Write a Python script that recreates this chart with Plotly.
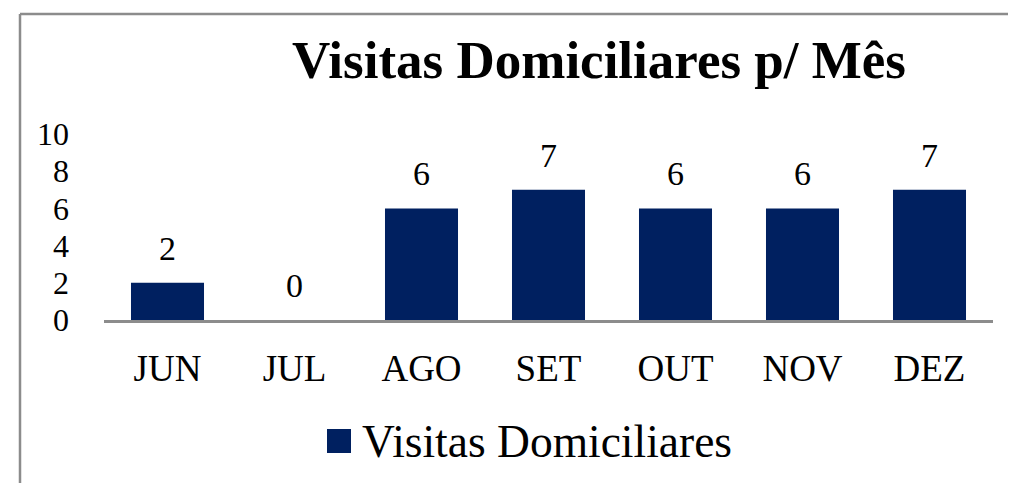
import plotly.graph_objects as go

months = ["JUN", "JUL", "AGO", "SET", "OUT", "NOV", "DEZ"]
visits = [2, 0, 6, 7, 6, 6, 7]
y_ticks = [0, 2, 4, 6, 8, 10]
series_name = "Visitas Domiciliares"
title_text = "Visitas Domiciliares p/ Mês"

OFF = 8  # page body margin
W, H = 1016 - OFF, 483 - OFF
L, T = 104 - OFF, 134 - OFF
pw, ph = 889, 186
R = W - L - pw
B = H - T - ph

def px_x(x):
    return (x - OFF - L) / pw

def px_y(y):
    return (T + ph - (y - OFF)) / ph

NAVY = "#002060"
GRAY = "#8c8c8c"
FONT = "Liberation Serif"

fig = go.Figure()
fig.add_trace(go.Bar(
    x=months, y=visits, name=series_name,
    marker=dict(color=NAVY, line=dict(width=0)),
    width=0.575, showlegend=False,
))

for m, v in zip(months, visits):
    fig.add_annotation(
        x=m, y=v, xref="x", yref="y", text=str(v), showarrow=False,
        yanchor="bottom", yshift=14,
        font=dict(family=FONT, size=34, color="#000000"),
    )

# border (top and left edges visible in the frame)
fig.add_shape(type="line", xref="paper", yref="paper",
              x0=px_x(20), x1=px_x(1030), y0=px_y(14), y1=px_y(14),
              line=dict(color=GRAY, width=2.5), layer="below")
fig.add_shape(type="line", xref="paper", yref="paper",
              x0=px_x(20), x1=px_x(20), y0=px_y(520), y1=px_y(14),
              line=dict(color=GRAY, width=2.5), layer="below")

# manual legend
fig.add_shape(type="rect", xref="paper", yref="paper",
              x0=px_x(327), x1=px_x(351), y0=px_y(453), y1=px_y(429),
              line=dict(width=0), fillcolor=NAVY)
fig.add_annotation(xref="paper", yref="paper", x=px_x(360), y=px_y(441),
                   xanchor="left", yanchor="middle", text=series_name, showarrow=False,
                   font=dict(family=FONT, size=45.5, color="#000000"))

fig.update_layout(
    width=W, height=H,
    margin=dict(l=L, r=R, t=T, b=B),
    paper_bgcolor="white", plot_bgcolor="white",
    title=dict(text="<b>" + title_text + "</b>", x=(599 - OFF) / W, xanchor="center",
               xref="container", y=1 - (59 - OFF) / H, yanchor="middle", yref="container",
               font=dict(family=FONT, size=53, color="#000000")),
    showlegend=False,
    bargap=0.425,
)
fig.update_xaxes(showline=True, linecolor=GRAY, linewidth=2.5, ticks="",
                 tickfont=dict(family=FONT, size=37, color="#000000"),
                 ticklabelstandoff=14, showgrid=False, zeroline=False)
fig.update_yaxes(range=[0, 10], tickvals=y_ticks, showgrid=False, zeroline=False,
                 showline=False, ticks="", ticklabelstandoff=34,
                 tickfont=dict(family=FONT, size=32, color="#000000"))

fig.write_html("out.html")
